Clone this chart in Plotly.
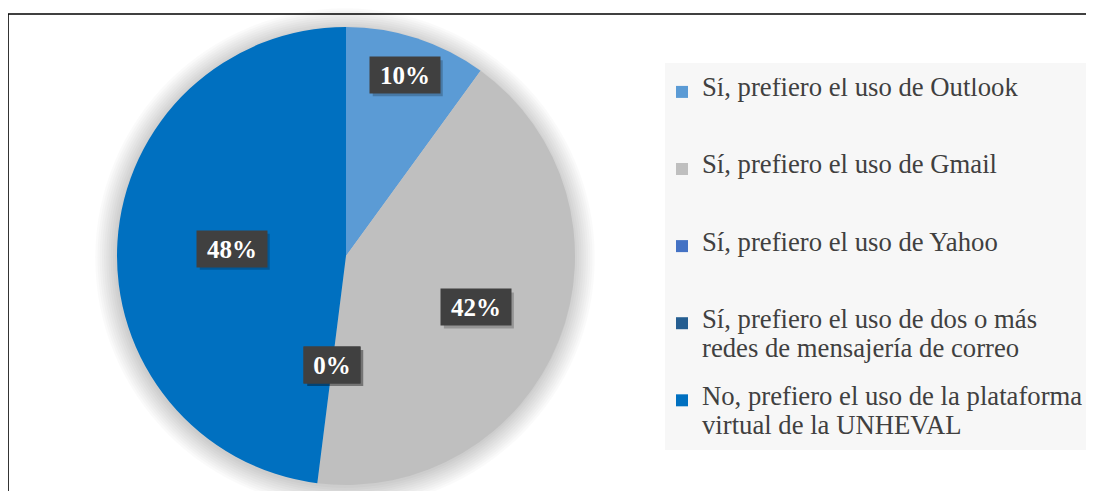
import math
import plotly.graph_objects as go

# page is 1094x491, the html body adds an 8px margin
OFF = 8
W, H = 1094 - OFF, 491 - OFF

categorias = [
    "Sí, prefiero el uso de Outlook",
    "Sí, prefiero el uso de Gmail",
    "Sí, prefiero el uso de Yahoo",
    "Sí, prefiero el uso de dos o más|redes de mensajería de correo",
    "No, prefiero el uso de la plataforma|virtual de la UNHEVAL",
]
porcentajes = [10, 42, 0, 0, 48]
colores = ["#5B9BD5", "#BFBFBF", "#4472C4", "#255E91", "#0070C0"]
radio_etiqueta = [0.83, 0.61, 0.48, 0.48, 0.50]

# pie geometry in page pixels
cx, cy, r = 346, 256, 229


def px(x):
    return (x - OFF) / W


def py(y):
    return 1 - (y - OFF) / H


def etiqueta_leyenda(texto):
    # small base font keeps the blank lines short, the span sets the real size
    partes = texto.split("|")
    s = "<br> <br>".join("<span style='font-size:26.7px'>" + p + "</span>" for p in partes)
    extra = 5 - (2 * len(partes) - 1)
    return s + "<br> " * extra


fig = go.Figure()

fig.add_trace(go.Pie(
    labels=[etiqueta_leyenda(c) for c in categorias],
    values=porcentajes,
    marker=dict(colors=colores, line=dict(width=0)),
    sort=False,
    direction="clockwise",
    rotation=0,
    textinfo="none",
    hoverinfo="label+percent",
    domain=dict(x=[px(cx - r), px(cx + r)], y=[py(cy + r), py(cy - r)]),
))

# soft shadow around the pie
shapes = []
for k in range(10):
    rr = r + 1 + k * 2.2
    shapes.append(dict(
        type="circle", xref="paper", yref="paper", layer="below",
        x0=px(cx - rr - 1), x1=px(cx + rr - 1), y0=py(cy + rr + 2), y1=py(cy - rr + 2),
        fillcolor="rgba(0,0,0,0.018)", line=dict(width=0),
    ))

# legend background
shapes.append(dict(
    type="rect", xref="paper", yref="paper", layer="below",
    x0=px(665), x1=px(1091), y0=py(450), y1=py(63),
    fillcolor="#F7F7F7", line=dict(width=0),
))

# outer frame (top and left edges visible)
shapes.append(dict(type="line", xref="paper", yref="paper",
                   x0=px(8), x1=px(1093), y0=py(14), y1=py(14),
                   line=dict(color="black", width=1.6)))
shapes.append(dict(type="line", xref="paper", yref="paper",
                   x0=px(8), x1=px(8), y0=py(14), y1=py(500),
                   line=dict(color="black", width=1.6)))

# data labels in dark boxes, with a small drop shadow
annotations = []
total = sum(porcentajes)
acum = 0
for v, rf in zip(porcentajes, radio_etiqueta):
    medio = (acum + v / 2) / total * 2 * math.pi
    acum += v
    x = cx + rf * r * math.sin(medio)
    y = cy - rf * r * math.cos(medio)
    pct = "%d%%" % round(v / total * 100)
    ancho = 18 + 14 * len(pct)
    hw = (ancho + 10) / 2
    shapes.append(dict(
        type="rect", xref="paper", yref="paper", layer="above",
        x0=px(x - hw + 3), x1=px(x + hw + 3), y0=py(y + 18 + 3), y1=py(y - 18 + 3),
        fillcolor="rgba(0,0,0,0.22)", line=dict(width=0),
    ))
    annotations.append(dict(
        x=px(x), y=py(y), xref="paper", yref="paper", showarrow=False,
        xanchor="center", yanchor="middle",
        text="<b>" + pct + "</b>", width=ancho, height=26,
        font=dict(family="Liberation Serif", size=25, color="white"),
        bgcolor="#404040", borderpad=5,
    ))

fig.update_layout(
    width=W, height=H,
    margin=dict(l=0, r=0, t=0, b=0),
    paper_bgcolor="white",
    plot_bgcolor="white",
    shapes=shapes,
    annotations=annotations,
    showlegend=True,
    legend=dict(
        x=px(662), y=py(78), xanchor="left", yanchor="top",
        bgcolor="rgba(0,0,0,0)", valign="top",
        font=dict(family="Liberation Serif", size=11.4, color="#404040"),
    ),
)

fig.write_html("out.html")
